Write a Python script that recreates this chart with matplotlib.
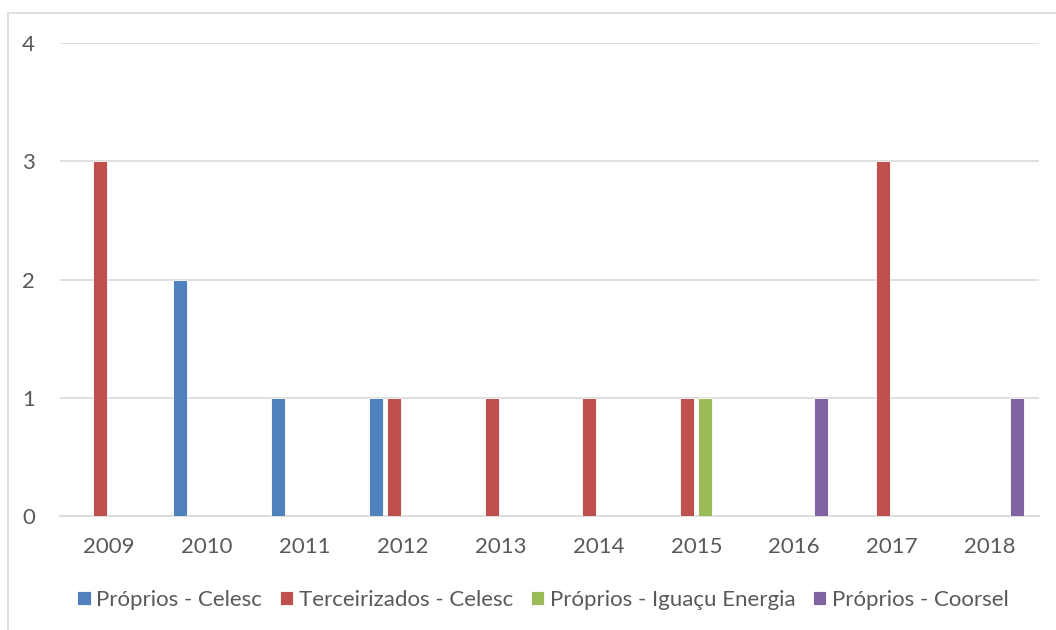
import numpy as np
import matplotlib.pyplot as plt
from matplotlib.patches import Rectangle

anos = ['2009', '2010', '2011', '2012', '2013', '2014', '2015', '2016', '2017', '2018']
series = ['Próprios - Celesc', 'Terceirizados - Celesc',
          'Próprios - Iguaçu Energia', 'Próprios - Coorsel']
proprios_celesc = [0, 2, 1, 1, 0, 0, 0, 0, 0, 0]
terceirizados_celesc = [3, 0, 0, 1, 1, 1, 1, 0, 3, 0]
proprios_iguacu = [0, 0, 0, 0, 0, 0, 1, 0, 0, 0]
proprios_coorsel = [0, 0, 0, 0, 0, 0, 0, 1, 0, 1]
cores = ['#4f81bd', '#c0504d', '#9bbb59', '#8064a2']

plt.rcParams['font.family'] = ['Lato', 'DejaVu Sans']
texto = '#595959'

fig = plt.figure(figsize=(10.56, 6.3), dpi=100)
ax = fig.add_axes([60 / 1056, 1 - 516 / 630, 979 / 1056, 473 / 630])

# moldura do gráfico
fig.patches.append(Rectangle((8 / 1056, -0.1), 1.2, 1 - 13 / 630 + 0.1,
                             transform=fig.transFigure, fill=False,
                             edgecolor='#d9d9d9', linewidth=1.2))

x = np.arange(len(anos))
largura = 0.143
desloc = [-0.276, -0.092, 0.092, 0.276]
dados = [proprios_celesc, terceirizados_celesc, proprios_iguacu, proprios_coorsel]
for valores, nome, cor, d in zip(dados, series, cores, desloc):
    ax.bar(x + d, valores, largura, color=cor, label=nome,
           edgecolor='white', linewidth=0.6, zorder=3)

ax.set_xlim(-0.5, len(anos) - 0.5)
ax.set_ylim(0, 4)
ax.set_yticks(range(5))
ax.set_xticks(x)
ax.set_xticklabels(anos)
ax.grid(axis='y', color='#d9d9d9', linewidth=1.2, zorder=0)
for lado in ['top', 'right', 'left']:
    ax.spines[lado].set_visible(False)
ax.spines['bottom'].set_color('#d9d9d9')
ax.spines['bottom'].set_linewidth(1.2)
ax.tick_params(axis='both', length=0, labelsize=16, labelcolor=texto)
ax.tick_params(axis='y', pad=18)
ax.tick_params(axis='x', pad=15)

ax.legend(loc='center', bbox_to_anchor=(543 / 1056, 1 - 600 / 630),
          bbox_transform=fig.transFigure, ncol=4, frameon=False,
          fontsize=16, labelcolor=texto, handlelength=0.6, handleheight=0.6,
          handletextpad=0.25, columnspacing=0.8)

fig.savefig('out.png', dpi=100)
